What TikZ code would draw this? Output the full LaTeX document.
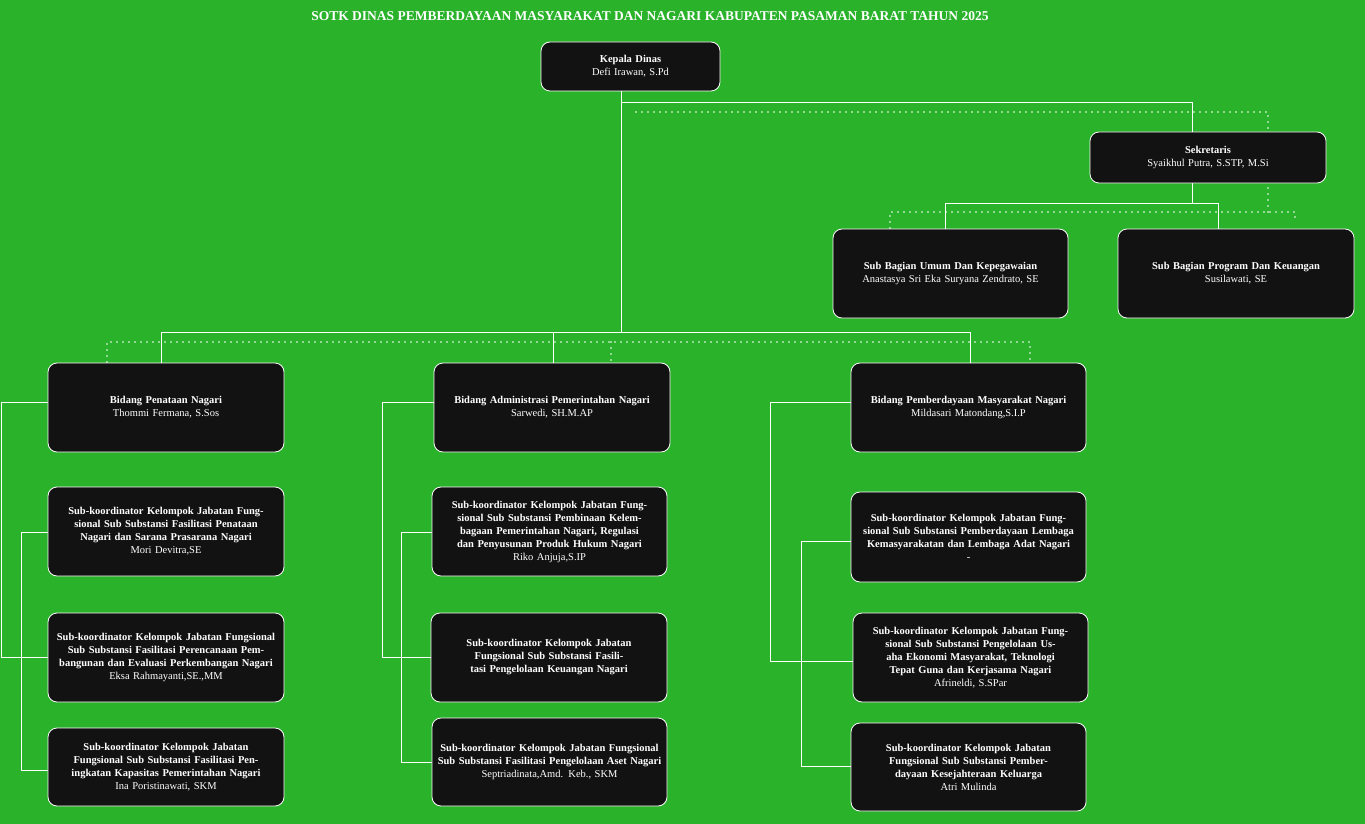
\documentclass[tikz,border=0pt]{standalone}
\usepackage{fontspec}
\setmainfont{Liberation Serif}
\definecolor{bg}{HTML}{29B22A}
\definecolor{bx}{HTML}{121212}
\begin{document}
\begin{tikzpicture}[x=1pt,y=-1pt,
  box/.style={draw=white,line width=0.8pt,fill=bx,rounded corners=9pt,text=white,align=center,inner sep=1pt,font=\fontsize{10.5}{13}\selectfont},
  ln/.style={draw=white,line width=0.8pt},
  dl/.style={draw=white,line width=1.6pt,dash pattern=on 0pt off 6pt,line cap=round}]
\fill[bg] (0,0) rectangle (1365,824);
\useasboundingbox (0,0) rectangle (1365,824);
\node[text=white,font=\bfseries\fontsize{13.5}{16}\selectfont] (title) at (650,16) {SOTK DINAS PEMBERDAYAAN MASYARAKAT DAN NAGARI KABUPATEN PASAMAN BARAT TAHUN 2025};
% helper macro for boxes: name, x1,y1,x2,y2, text
\newcommand\mybox[6]{\node[box,minimum width=#4-#2,minimum height=#5-#3,text width=#4-#2-4] (#1) at ({(#2+#4)/2},{(#3+#5)/2}) {#6};}
% dotted lines (behind)
\draw[dl] (636,112) -- (1268,112) -- (1268,212);
\draw[dl] (890,228) -- (890,212) -- (1295,212) -- (1295,222);
\draw[dl] (107,362) -- (107,342) -- (1030,342) -- (1030,362);
\draw[dl] (611,342) -- (611,362);
\mybox{kd}{541}{42}{720}{91}{\textbf{Kepala Dinas}\\Defi Irawan, S.Pd}
\mybox{sek}{1090}{132}{1326}{183}{\textbf{Sekretaris}\\Syaikhul Putra, S.STP, M.Si}
\mybox{su}{833}{229}{1068}{318}{\textbf{Sub Bagian Umum Dan Kepegawaian}\\Anastasya Sri Eka Suryana Zendrato, SE}
\mybox{sp}{1118}{229}{1354}{318}{\textbf{Sub Bagian Program Dan Keuangan}\\Susilawati, SE}
\mybox{b1}{48}{363}{284}{452}{\textbf{Bidang Penataan Nagari}\\Thommi Fermana, S.Sos}
\mybox{b2}{434}{363}{670}{452}{\textbf{Bidang Administrasi Pemerintahan Nagari}\\Sarwedi, SH.M.AP}
\mybox{b3}{851}{363}{1086}{452}{\textbf{Bidang Pemberdayaan Masyarakat Nagari}\\Mildasari Matondang,S.I.P}
\mybox{l1}{48}{487}{284}{576}{\textbf{Sub-koordinator Kelompok Jabatan Fungsional Sub Substansi Fasilitasi Penataan Nagari dan Sarana Prasarana Nagari}\\Mori Devitra,SE}
\mybox{l2}{48}{613}{284}{702}{\textbf{Sub-koordinator Kelompok Jabatan Fungsional Sub Substansi Fasilitasi Perencanaan Pembangunan dan Evaluasi Perkembangan Nagari}\\Eksa Rahmayanti,SE.,MM}
\mybox{l3}{48}{728}{284}{806}{\textbf{Sub-koordinator Kelompok Jabatan Fungsional Sub Substansi Fasilitasi Peningkatan Kapasitas Pemerintahan Nagari}\\Ina Poristinawati, SKM}
\mybox{m1}{432}{487}{667}{576}{\textbf{Sub-koordinator Kelompok Jabatan Fungsional Sub Substansi Pembinaan Kelembagaan Pemerintahan Nagari, Regulasi dan Penyusunan Produk Hukum Nagari}\\Riko Anjuja,S.IP}
\mybox{m2}{431}{613}{667}{702}{\textbf{Sub-koordinator Kelompok Jabatan Fungsional Sub Substansi Fasilitasi Pengelolaan Keuangan Nagari}}
\mybox{m3}{432}{718}{667}{806}{\textbf{Sub-koordinator Kelompok Jabatan Fungsional Sub Substansi Fasilitasi Pengelolaan Aset Nagari}\\Septriadinata,Amd. Keb., SKM}
\mybox{r1}{851}{492}{1086}{582}{\textbf{Sub-koordinator Kelompok Jabatan Fungsional Sub Substansi Pemberdayaan Lembaga Kemasyarakatan dan Lembaga Adat Nagari}\\-}
\mybox{r2}{853}{613}{1088}{702}{\textbf{Sub-koordinator Kelompok Jabatan Fungsional Sub Substansi Pengelolaan Usaha Ekonomi Masyarakat, Teknologi Tepat Guna dan Kerjasama Nagari}\\Afrineldi, S.SPar}
\mybox{r3}{851}{723}{1086}{811}{\textbf{Sub-koordinator Kelompok Jabatan Fungsional Sub Substansi Pemberdayaan Kesejahteraan Keluarga}\\Atri Mulinda}
% solid connectors
\coordinate (k1) at (621,102); \coordinate (k2) at (1192,102);
\coordinate (kb) at (621,332);
\draw[ln] (kd.south -| kb) -- (kb);
\draw[ln] (k1) -- (k2) -- (k2 |- sek.north);
\coordinate (s1) at (945,203); \coordinate (s2) at (1218,203);
\draw[ln] (sek.south -| k2) -- (k2 |- s1);
\draw[ln] (su.north -| s1) -- (s1) -- (s2) -- (sp.north -| s2);
\coordinate (h1) at (161,332); \coordinate (h2) at (553,332); \coordinate (h3) at (970,332);
\draw[ln] (b1.north -| h1) -- (h1) -- (h3) -- (b3.north -| h3);
\draw[ln] (h2) -- (b2.north -| h2);
\coordinate (ca) at (1,402); \coordinate (cb) at (21,532);
\draw[ln] (b1.west |- ca) -- (ca) -- (ca |- l2.west) -- (l2.west);
\draw[ln] (l1.west |- cb) -- (cb) -- (21,770) -- (l3.west |- 0,770);
\coordinate (cc) at (382,402); \coordinate (cd) at (401,532);
\draw[ln] (b2.west |- cc) -- (cc) -- (382,657) -- (m2.west |- 0,657);
\draw[ln] (m1.west |- cd) -- (cd) -- (401,762) -- (m3.west |- 0,762);
\coordinate (ce) at (770,402); \coordinate (cf) at (801,541);
\draw[ln] (b3.west |- ce) -- (ce) -- (770,661) -- (r2.west |- 0,661);
\draw[ln] (r1.west |- cf) -- (cf) -- (801,766) -- (r3.west |- 0,766);
\end{tikzpicture}
\end{document}
